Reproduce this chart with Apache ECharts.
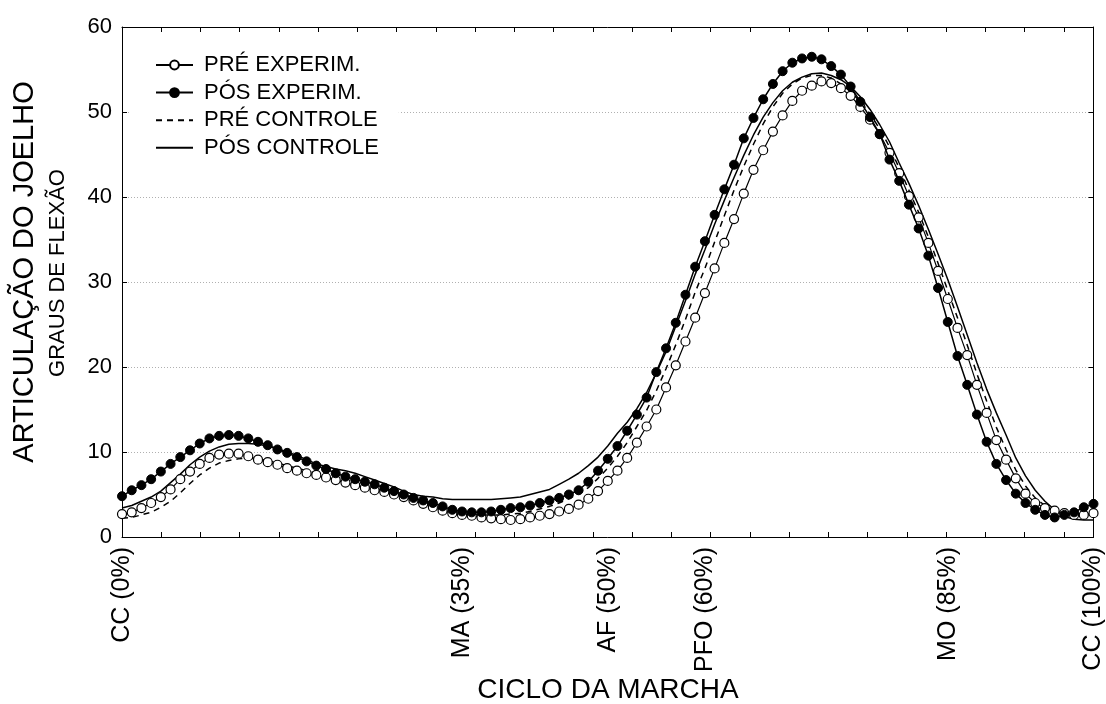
<!DOCTYPE html>
<html>
<head>
<meta charset="utf-8">
<script src="https://cdn.jsdelivr.net/npm/echarts@6/dist/echarts.min.js"></script>
<style>html,body{margin:0;padding:0;background:#fff}#c{width:1106px;height:704px}</style>
</head>
<body>
<div id="c"></div>
<script>
// gait cycle percentage 0..100
var cyclePct = [];
for (var i = 0; i <= 100; i++) cyclePct.push(i);

var seriesNames = ['PRÉ EXPERIM.', 'PÓS EXPERIM.', 'PRÉ CONTROLE', 'PÓS CONTROLE'];

var preExperim = [
 2.7,2.9,3.4,4.0,4.7,5.6,6.8,7.7,8.6,9.3,
 9.7,9.8,9.8,9.5,9.1,8.8,8.5,8.1,7.8,7.5,
 7.3,7.0,6.7,6.4,6.1,5.8,5.5,5.3,5.0,4.7,
 4.3,3.9,3.5,3.1,2.8,2.6,2.5,2.3,2.2,2.1,
 2.0,2.1,2.3,2.5,2.7,3.0,3.3,3.8,4.5,5.4,
 6.6,7.8,9.3,11.1,13.0,15.0,17.6,20.2,23.0,25.8,
 28.7,31.6,34.6,37.4,40.4,43.2,45.5,47.7,49.6,51.3,
 52.5,53.1,53.6,53.4,52.8,51.9,50.6,49.1,47.4,45.2,
 42.8,40.1,37.6,34.6,31.3,28.0,24.6,21.4,17.9,14.6,
 11.4,9.1,6.9,5.1,4.0,3.4,3.1,2.8,2.6,2.6,
 2.8];

var posExperim = [
 4.8,5.5,6.1,6.8,7.7,8.6,9.4,10.2,11.0,11.6,
 11.9,12.0,11.9,11.6,11.2,10.8,10.3,9.9,9.4,8.9,
 8.4,8.0,7.5,7.1,6.8,6.5,6.2,5.8,5.4,5.0,
 4.6,4.3,4.0,3.6,3.2,3.0,2.9,2.9,3.0,3.2,
 3.4,3.5,3.7,4.0,4.3,4.6,5.0,5.5,6.5,7.8,
 9.2,10.7,12.5,14.4,16.4,19.4,22.2,25.2,28.5,31.8,
 34.8,37.9,40.9,43.8,46.9,49.3,51.5,53.3,54.8,55.8,
 56.3,56.5,56.2,55.4,54.4,53.0,51.2,49.4,47.4,44.4,
 41.9,39.1,36.3,33.1,29.3,25.3,21.3,17.9,14.4,11.2,
 8.6,6.7,5.1,4.0,3.2,2.6,2.3,2.6,2.9,3.5,
 3.9];

var preControle = [
 2.2,2.3,2.6,2.9,3.5,4.2,5.2,6.3,7.3,8.1,
 8.7,9.0,9.2,9.3,9.2,9.0,8.7,8.4,8.1,7.8,
 7.5,7.2,6.9,6.6,6.3,6.0,5.7,5.4,5.1,4.8,
 4.4,4.0,3.6,3.3,3.0,2.8,2.7,2.6,2.6,2.6,
 2.7,2.8,3.0,3.3,3.6,4.0,4.5,5.1,5.8,6.9,
 8.1,9.5,11.1,13.0,14.9,17.2,19.8,22.6,25.6,28.8,
 31.6,34.7,37.8,40.8,43.6,46.2,48.6,50.6,52.2,53.3,
 54.0,54.3,54.3,54.0,53.3,52.4,51.2,49.8,48.0,45.9,
 43.4,40.8,38.2,35.3,32.2,29.0,25.8,22.6,19.2,16.0,
 12.9,10.3,7.9,6.0,4.6,3.7,3.1,2.7,2.5,2.5,
 2.6];

var posControle = [
 3.4,3.7,4.2,4.7,5.4,6.4,7.4,8.5,9.4,10.1,
 10.6,10.9,11.0,11.0,10.9,10.7,10.4,10.0,9.6,9.1,
 8.6,8.3,8.0,7.8,7.5,7.1,6.7,6.3,5.9,5.4,
 5.0,4.8,4.7,4.5,4.4,4.4,4.4,4.4,4.4,4.5,
 4.6,4.7,5.0,5.3,5.6,6.2,6.8,7.5,8.4,9.4,
 10.7,12.2,13.5,15.1,17.0,19.3,21.8,24.8,27.8,30.9,
 33.8,36.8,39.6,42.3,44.9,47.3,49.4,51.1,52.5,53.5,
 54.1,54.5,54.6,54.3,53.8,53.0,51.8,50.3,48.5,46.5,
 44.0,41.6,39.0,36.2,33.3,30.3,27.1,23.8,20.5,17.4,
 14.6,12.0,9.3,7.2,5.5,4.2,3.2,2.4,2.1,2.0,
 2.0];

// x-axis event labels
var eventValues = [0, 35, 50, 60, 85, 100];
var eventLabels = ['CC (0%)', 'MA (35%)', 'AF (50%)', 'PFO (60%)', 'MO (85%)', 'CC (100%)'];
// x-axis minor tick positions (percent of cycle)
var xTickValues = [4.04,8.08,12.12,16.16,20.2,24.24,28.28,32.32,36.36,40.4,44.44,48.48,
 52.52,56.56,60.6,64.64,68.68,72.72,76.76,80.8,84.84,88.88,92.92,96.96];
var yTicks = [0, 10, 20, 30, 40, 50, 60];

var yTitle = 'ARTICULAÇÃO DO JOELHO';
var ySubTitle = 'GRAUS DE FLEXÃO';
var xTitle = 'CICLO DA MARCHA';

function pairs(arr) { return arr.map(function (v, i) { return [cyclePct[i], v]; }); }

var FONT = '"Liberation Sans", Arial, sans-serif';
var chart = echarts.init(document.getElementById('c'), null, { renderer: 'canvas' });
chart.setOption({
  animation: false,
  backgroundColor: '#fff',
  grid: { left: 122, right: 12, top: 27, bottom: 167, containLabel: false },
  legend: {
    orient: 'vertical', left: 130, top: 45,
    padding: [8, 20, 8, 25],
    backgroundColor: '#fff',
    itemWidth: 37, itemHeight: 11, itemGap: 3.6,
    textStyle: { fontFamily: FONT, fontSize: 22, color: '#000', lineHeight: 24, padding: [0, 0, 0, 6] },
    data: [
      { name: seriesNames[0] },
      { name: seriesNames[1] },
      { name: seriesNames[2], itemStyle: { opacity: 0 } },
      { name: seriesNames[3], itemStyle: { opacity: 0 } }
    ]
  },
  xAxis: [{
    type: 'value', min: 0, max: 100, position: 'bottom',
    axisLine: { show: true, onZero: false, lineStyle: { color: '#000', width: 1 } },
    axisTick: { show: true, inside: true, length: 5, customValues: xTickValues, lineStyle: { color: '#000' } },
    axisLabel: {
      customValues: eventValues, rotate: 90, margin: 10,
      fontFamily: FONT, fontSize: 25, color: '#000',
      formatter: function (v) { var k = eventValues.indexOf(v); return k >= 0 ? eventLabels[k] : ''; }
    },
    splitLine: { show: false }
  }, {
    type: 'value', min: 0, max: 100, position: 'top',
    axisLine: { show: true, onZero: false, lineStyle: { color: '#000', width: 1 } },
    axisTick: { show: true, inside: true, length: 5, customValues: xTickValues, lineStyle: { color: '#000' } },
    axisLabel: { show: false }, splitLine: { show: false }
  }],
  yAxis: [{
    type: 'value', min: 0, max: 60, interval: 10, position: 'left',
    axisLine: { show: true, onZero: false, lineStyle: { color: '#000', width: 1 } },
    axisTick: { show: true, inside: true, length: 5, lineStyle: { color: '#000' } },
    axisLabel: { margin: 10, fontFamily: FONT, fontSize: 22, color: '#000',
      formatter: function (v) { return yTicks.indexOf(v) >= 0 ? String(v) : ''; } },
    splitLine: { show: true, lineStyle: { color: '#b0b0b0', type: [1, 2], width: 1 } }
  }, {
    type: 'value', min: 0, max: 60, interval: 10, position: 'right',
    axisLine: { show: true, onZero: false, lineStyle: { color: '#000', width: 1 } },
    axisTick: { show: true, inside: true, length: 5, lineStyle: { color: '#000' } },
    axisLabel: { show: false }, splitLine: { show: false }
  }],
  graphic: [
    { type: 'text', x: 25, y: 272, rotation: Math.PI / 2,
      style: { text: yTitle, font: '29px ' + FONT, fill: '#000', align: 'center', verticalAlign: 'middle' } },
    { type: 'text', x: 58, y: 273, rotation: Math.PI / 2,
      style: { text: ySubTitle, font: '22px ' + FONT, fill: '#000', align: 'center', verticalAlign: 'middle' } },
    { type: 'text', x: 608, y: 690,
      style: { text: xTitle, font: '28px ' + FONT, fill: '#000', align: 'center', verticalAlign: 'middle' } }
  ],
  series: [
    { name: seriesNames[0], type: 'line', data: pairs(preExperim), symbol: 'circle', symbolSize: 9,
      lineStyle: { color: '#000', width: 1.2 },
      itemStyle: { color: '#fff', borderColor: '#000', borderWidth: 1.2 }, z: 3 },
    { name: seriesNames[1], type: 'line', data: pairs(posExperim), symbol: 'circle', symbolSize: 9,
      lineStyle: { color: '#000', width: 1.5 },
      itemStyle: { color: '#000', borderColor: '#000', borderWidth: 1 }, z: 4 },
    { name: seriesNames[2], type: 'line', data: pairs(preControle), symbol: 'none', showSymbol: false,
      lineStyle: { color: '#000', width: 1.5, type: [6, 5] }, itemStyle: { color: '#000' }, z: 2 },
    { name: seriesNames[3], type: 'line', data: pairs(posControle), symbol: 'none', showSymbol: false,
      lineStyle: { color: '#000', width: 1.5 }, itemStyle: { color: '#000' }, z: 2 }
  ]
});
</script>
</body>
</html>
